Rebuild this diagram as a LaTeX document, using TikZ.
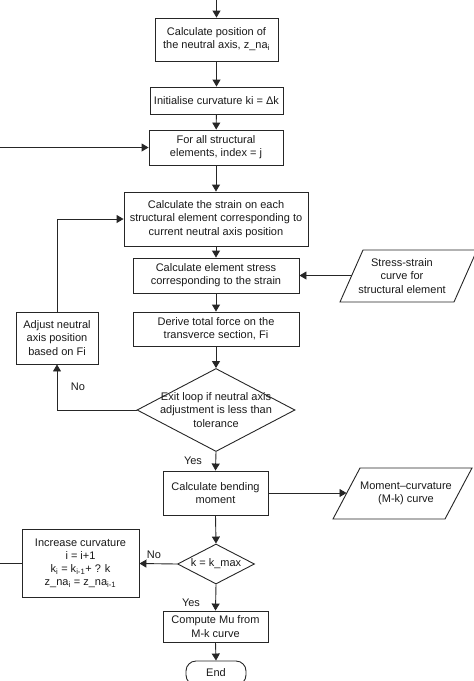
\documentclass[tikz,border=0pt]{standalone}
\usepackage{fontspec}
\setmainfont{Liberation Sans}
\usetikzlibrary{arrows.meta,shapes.geometric}
\begin{document}
\begin{tikzpicture}[x=1pt,y=-1pt,
  line/.style={draw=black!85,line width=0.9pt},
  arr/.style={line,-{Triangle[length=7pt,width=8pt]}},
  txt/.style={font=\fontsize{11}{13.2}\selectfont,align=center,inner sep=0pt,text=black!90},
  box/.style={txt,line,rectangle},
  dia/.style={line,diamond,inner sep=0pt},
  lbl/.style={txt}]
\useasboundingbox (0,0) rectangle (474,681);
\clip (0,0) rectangle (474,681);
% boxes
\node[box,minimum width=123pt,minimum height=43pt] (b1) at (216.5,39.5) {Calculate position of\\the neutral axis, z\_na\textsubscript{i}};
\node[box,minimum width=133pt,minimum height=27pt] (b2) at (216.5,100.5) {Initialise curvature ki = Δk};
\node[box,minimum width=134pt,minimum height=35pt] (b3) at (216,147.5) {For all structural\\elements, index = j};
\node[box,minimum width=184pt,minimum height=54pt] (b4) at (216,219) {Calculate the strain on each\\structural element corresponding to\\current neutral axis position};
\node[box,minimum width=166pt,minimum height=35pt] (b5) at (216,275.5) {Calculate element stress\\corresponding to the strain};
\node[box,minimum width=166pt,minimum height=34pt] (b6) at (216,329) {Derive total force on the\\transverce section, Fi};
\node[box,minimum width=82pt,minimum height=52pt] (b7) at (57,338) {Adjust neutral\\axis position\\based on Fi};
\node[dia,minimum width=158pt,minimum height=83pt] (d1) at (216,410) {};
\node[txt] (d1t) at (d1) {Exit loop if neutral axis\\adjustment is less than\\tolerance};
\node[box,minimum width=105pt,minimum height=44pt] (b8) at (215.5,493) {Calculate bending\\moment};
\node[dia,minimum width=77pt,minimum height=40pt] (d2) at (216,564) {};
\node[txt] (d2t) at (d2) {k = k\_max};
\node[box,minimum width=117pt,minimum height=68pt] (b9) at (80.5,563.5) {Increase curvature\\i = i+1\\k\textsubscript{i} = k\textsubscript{i-1}+ ? k\\z\_na\textsubscript{i} = z\_na\textsubscript{i-1}};
\node[box,minimum width=105pt,minimum height=31pt] (b10) at (215.5,626.5) {Compute Mu from\\M-k curve};
\node[box,rounded corners=10pt,minimum width=60pt,minimum height=24pt] (end) at (216,673) {End};
% parallelograms
\coordinate (p1a) at (363,250); \coordinate (p1b) at (477,250);
\coordinate (p1c) at (454,302); \coordinate (p1d) at (340,302);
\draw[line] (p1a) -- (p1b) -- (p1c) -- (p1d) -- cycle;
\node[txt] (p1) at (402,276) {Stress-strain\\curve for\\structural element};
\coordinate (p1w) at (351.5,275.5);
\coordinate (p2a) at (360,468); \coordinate (p2b) at (472,468);
\coordinate (p2c) at (445,519); \coordinate (p2d) at (333,519);
\draw[line] (p2a) -- (p2b) -- (p2c) -- (p2d) -- cycle;
\node[txt] (p2) at (406,493) {Moment--curvature\\(M-k) curve};
\coordinate (p2w) at (346.5,493);
% connectors
\coordinate (top) at (216.5,0);
\coordinate (lin) at (0,147.5);
\coordinate (lout) at (0,563.5);
\draw[arr] (top) -- (b1);
\draw[arr] (b1) -- (b2);
\draw[arr] (b2) -- (b3);
\draw[arr] (lin) -- (b3.west);
\draw[arr] (b3.south) -- (b4.north);
\draw[arr] (b4) -- (b5);
\draw[arr] (p1w) -- (b5.east);
\draw[arr] (b5) -- (b6);
\draw[arr] (b6.south) -- (d1.north);
\draw[arr] (d1.west) -| (b7.south);
\draw[arr] (b7.north) |- (b4.west);
\draw[arr] (d1.south) -- (b8.north);
\draw[arr] (b8.east) -- (p2w);
\draw[arr] (b8.south) -- (d2.north);
\draw[arr] (d2.west) -- (b9.east);
\draw[line] (b9.west) -- (lout);
\draw[arr] (d2.south) -- (b10.north);
\draw[arr] (b10.south) -- (end.north);
% labels
\node[lbl] (no1) at (78,387) {No};
\node[lbl] (yes1) at (193,461) {Yes};
\node[lbl] (no2) at (154,555) {No};
\node[lbl] (yes2) at (191,603) {Yes};
\end{tikzpicture}
\end{document}
